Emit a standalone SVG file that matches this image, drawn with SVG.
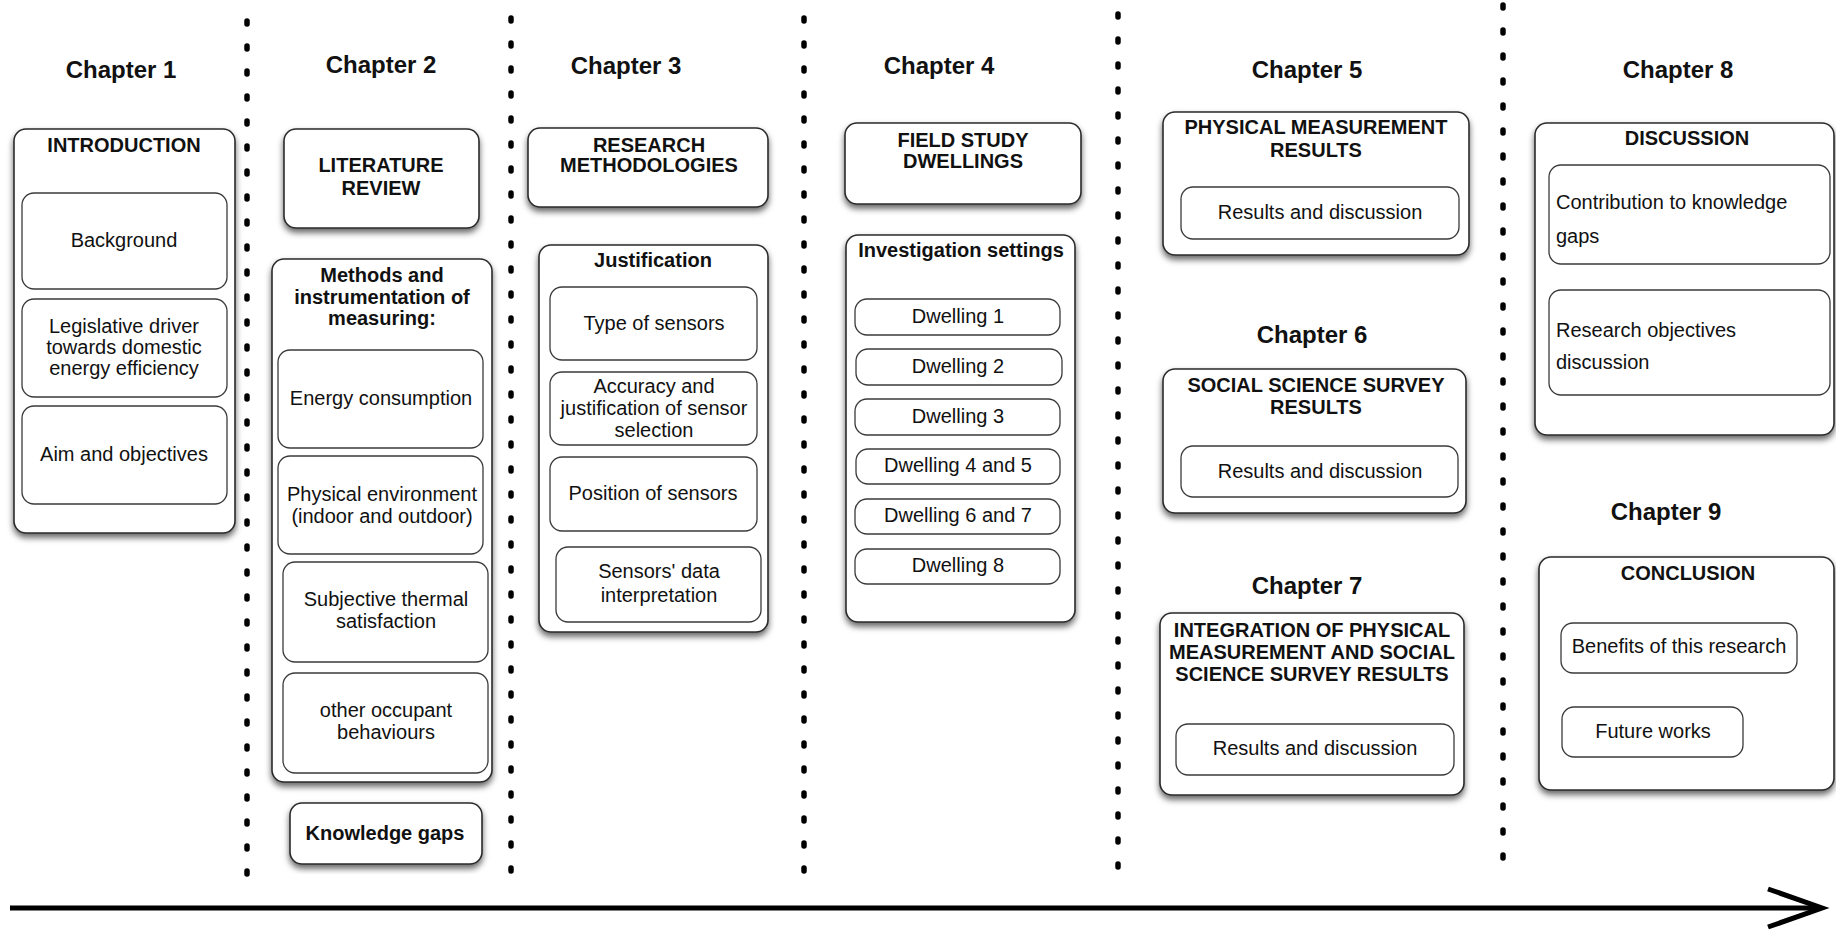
<svg xmlns="http://www.w3.org/2000/svg" width="1836" height="930" viewBox="0 0 1836 930">
<style>
text{font-family:"Liberation Sans",Arial,Helvetica,sans-serif;fill:#111;text-anchor:middle;font-size:20px}
.ch{font-size:24px;font-weight:bold}
.b{font-weight:bold}
.l{text-anchor:start}
.outer{fill:#fff;stroke:#2a2a2a;stroke-width:1.6;filter:url(#sh)}
.inner{fill:#fff;stroke:#3a3a3a;stroke-width:1.3}
.dots{stroke:#000;stroke-width:5.5;stroke-linecap:round;stroke-dasharray:3 22;fill:none}
.arr{stroke:#000;stroke-width:5;fill:none}
</style>
<defs>
<filter id="sh" x="-10%" y="-10%" width="120%" height="125%">
<feDropShadow dx="0" dy="4" stdDeviation="3" flood-color="#000" flood-opacity="0.6"/>
</filter>
</defs>
<rect width="1836" height="930" fill="#fff"/>

<g id="connectors">
<line class="dots" x1="247" y1="21" x2="247" y2="877"/>
<line class="dots" x1="511" y1="18" x2="511" y2="877"/>
<line class="dots" x1="804" y1="18" x2="804" y2="877"/>
<line class="dots" x1="1118" y1="14" x2="1118" y2="877"/>
<line class="dots" x1="1503" y1="5" x2="1503" y2="865"/>
<line class="arr" x1="10" y1="908" x2="1818" y2="908"/>
<polyline class="arr" points="1768,889 1822,908 1768,927"/>
</g>

<g id="titles">
<text class="ch" x="121" y="78">Chapter 1</text>
<text class="ch" x="381" y="73">Chapter 2</text>
<text class="ch" x="626" y="74">Chapter 3</text>
<text class="ch" x="939" y="74">Chapter 4</text>
<text class="ch" x="1307" y="78">Chapter 5</text>
<text class="ch" x="1312" y="343">Chapter 6</text>
<text class="ch" x="1307" y="594">Chapter 7</text>
<text class="ch" x="1678" y="78">Chapter 8</text>
<text class="ch" x="1666" y="520">Chapter 9</text>
</g>

<g id="introduction">
<rect class="outer" x="14" y="129" width="221" height="404" rx="12"/>
<text class="b" x="124" y="152">INTRODUCTION</text>
<rect class="inner" x="22" y="193" width="205" height="96" rx="12"/>
<text x="124" y="247">Background</text>
<rect class="inner" x="22" y="299" width="205" height="98" rx="12"/>
<text x="124" y="333">Legislative driver</text>
<text x="124" y="354">towards domestic</text>
<text x="124" y="375">energy efficiency</text>
<rect class="inner" x="22" y="406" width="205" height="98" rx="12"/>
<text x="124" y="461">Aim and objectives</text>
</g>

<g id="literature-review">
<rect class="outer" x="284" y="129" width="195" height="99" rx="12"/>
<text class="b" x="381" y="172">LITERATURE</text>
<text class="b" x="381" y="195">REVIEW</text>
</g>

<g id="methods">
<rect class="outer" x="272" y="259" width="220" height="523" rx="12"/>
<text class="b" x="382" y="282">Methods and</text>
<text class="b" x="382" y="304">instrumentation of</text>
<text class="b" x="382" y="325">measuring:</text>
<rect class="inner" x="278" y="350" width="205" height="98" rx="12"/>
<text x="381" y="405">Energy consumption</text>
<rect class="inner" x="278" y="456" width="205" height="98" rx="12"/>
<text x="382" y="501">Physical environment</text>
<text x="382" y="523">(indoor and outdoor)</text>
<rect class="inner" x="283" y="562" width="205" height="100" rx="12"/>
<text x="386" y="606">Subjective thermal</text>
<text x="386" y="628">satisfaction</text>
<rect class="inner" x="283" y="673" width="205" height="100" rx="12"/>
<text x="386" y="717">other occupant</text>
<text x="386" y="739">behaviours</text>
</g>

<g id="knowledge-gaps">
<rect class="outer" x="290" y="803" width="192" height="61" rx="12"/>
<text class="b" x="385" y="840">Knowledge gaps</text>
</g>

<g id="research-methodologies">
<rect class="outer" x="528" y="128" width="240" height="79" rx="12"/>
<text class="b" x="649" y="152">RESEARCH</text>
<text class="b" x="649" y="172">METHODOLOGIES</text>
</g>

<g id="justification">
<rect class="outer" x="539" y="245" width="229" height="387" rx="12"/>
<text class="b" x="653" y="267">Justification</text>
<rect class="inner" x="550" y="287" width="207" height="73" rx="12"/>
<text x="654" y="330">Type of sensors</text>
<rect class="inner" x="550" y="372" width="207" height="73" rx="12"/>
<text x="654" y="393">Accuracy and</text>
<text x="654" y="415">justification of sensor</text>
<text x="654" y="437">selection</text>
<rect class="inner" x="550" y="457" width="207" height="74" rx="12"/>
<text x="653" y="500">Position of sensors</text>
<rect class="inner" x="556" y="547" width="205" height="75" rx="12"/>
<text x="659" y="578">Sensors' data</text>
<text x="659" y="602">interpretation</text>
</g>

<g id="field-study">
<rect class="outer" x="845" y="123" width="236" height="81" rx="12"/>
<text class="b" x="963" y="147">FIELD STUDY</text>
<text class="b" x="963" y="168">DWELLINGS</text>
</g>

<g id="investigation-settings">
<rect class="outer" x="846" y="235" width="229" height="387" rx="12"/>
<text class="b" x="961" y="257">Investigation settings</text>
<rect class="inner" x="855" y="299" width="205" height="36" rx="12"/>
<text x="958" y="323">Dwelling 1</text>
<rect class="inner" x="856" y="349" width="206" height="36" rx="12"/>
<text x="958" y="373">Dwelling 2</text>
<rect class="inner" x="855" y="399" width="205" height="36" rx="12"/>
<text x="958" y="423">Dwelling 3</text>
<rect class="inner" x="856" y="449" width="204" height="35" rx="12"/>
<text x="958" y="472">Dwelling 4 and 5</text>
<rect class="inner" x="855" y="499" width="205" height="35" rx="12"/>
<text x="958" y="522">Dwelling 6 and 7</text>
<rect class="inner" x="855" y="549" width="205" height="35" rx="12"/>
<text x="958" y="572">Dwelling 8</text>
</g>

<g id="physical-measurement">
<rect class="outer" x="1163" y="112" width="306" height="143" rx="12"/>
<text class="b" x="1316" y="134">PHYSICAL MEASUREMENT</text>
<text class="b" x="1316" y="157">RESULTS</text>
<rect class="inner" x="1181" y="187" width="278" height="52" rx="12"/>
<text x="1320" y="219">Results and discussion</text>
</g>

<g id="social-science">
<rect class="outer" x="1163" y="369" width="303" height="144" rx="12"/>
<text class="b" x="1316" y="392">SOCIAL SCIENCE SURVEY</text>
<text class="b" x="1316" y="414">RESULTS</text>
<rect class="inner" x="1181" y="446" width="277" height="51" rx="12"/>
<text x="1320" y="478">Results and discussion</text>
</g>

<g id="integration">
<rect class="outer" x="1160" y="613" width="304" height="182" rx="12"/>
<text class="b" x="1312" y="637">INTEGRATION OF PHYSICAL</text>
<text class="b" x="1312" y="659">MEASUREMENT AND SOCIAL</text>
<text class="b" x="1312" y="681">SCIENCE SURVEY RESULTS</text>
<rect class="inner" x="1176" y="724" width="278" height="51" rx="12"/>
<text x="1315" y="755">Results and discussion</text>
</g>

<g id="discussion">
<rect class="outer" x="1535" y="123" width="299" height="312" rx="12"/>
<text class="b" x="1687" y="145">DISCUSSION</text>
<rect class="inner" x="1549" y="165" width="281" height="99" rx="12"/>
<text class="l" x="1556" y="209">Contribution to knowledge</text>
<text class="l" x="1556" y="243">gaps</text>
<rect class="inner" x="1549" y="290" width="281" height="105" rx="12"/>
<text class="l" x="1556" y="337">Research objectives</text>
<text class="l" x="1556" y="369">discussion</text>
</g>

<g id="conclusion">
<rect class="outer" x="1539" y="557" width="295" height="233" rx="12"/>
<text class="b" x="1688" y="580">CONCLUSION</text>
<rect class="inner" x="1561" y="623" width="236" height="50" rx="12"/>
<text x="1679" y="653">Benefits of this research</text>
<rect class="inner" x="1562" y="707" width="181" height="50" rx="12"/>
<text x="1653" y="738">Future works</text>
</g>
</svg>
